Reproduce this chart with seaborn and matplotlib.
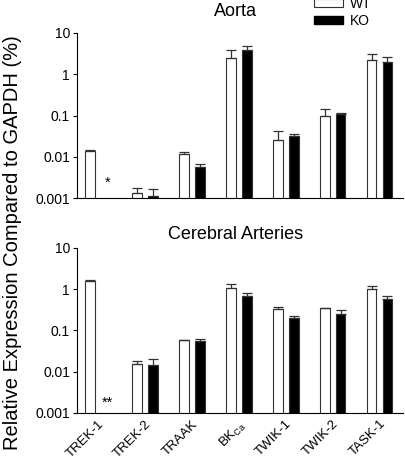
import matplotlib
matplotlib.use("Agg")
import matplotlib.pyplot as plt
from matplotlib.patches import Patch
from matplotlib.ticker import FixedLocator, NullLocator
import numpy as np
import pandas as pd
import seaborn as sns

channels = ["TREK-1", "TREK-2", "TRAAK", "BKCa", "TWIK-1", "TWIK-2", "TASK-1"]
tick_labels = ["TREK-1", "TREK-2", "TRAAK", r"BK$_{\mathregular{Ca}}$", "TWIK-1", "TWIK-2", "TASK-1"]

# Aorta (% of GAPDH), mean and upper error
aorta_wt = [0.014, 0.0013, 0.0116, 2.4, 0.0255, 0.095, 2.2]
aorta_wt_err = [0.0003, 0.0005, 0.0012, 1.4, 0.0165, 0.05, 0.8]
aorta_ko = [np.nan, 0.0011, 0.0058, 3.85, 0.0325, 0.11, 1.93]
aorta_ko_err = [np.nan, 0.0006, 0.001, 1.05, 0.0035, 0.004, 0.62]

# Cerebral arteries
cereb_wt = [1.6, 0.0156, 0.057, 1.06, 0.33, 0.34, 1.0]
cereb_wt_err = [0.02, 0.003, 0.0005, 0.28, 0.04, 0.01, 0.2]
cereb_ko = [np.nan, 0.0145, 0.0553, 0.69, 0.2, 0.254, 0.57]
cereb_ko_err = [np.nan, 0.0062, 0.0077, 0.12, 0.024, 0.051, 0.12]

plt.rcParams["font.family"] = ["Liberation Sans", "DejaVu Sans"]
fig = plt.figure(figsize=(4.05, 4.63), dpi=100)
ax1 = fig.add_axes([0.19, 0.572, 0.805, 0.357])
ax2 = fig.add_axes([0.19, 0.108, 0.805, 0.357])


def panel(ax, wt, wt_err, ko, ko_err, title, pad, star):
    df = pd.DataFrame({
        "channel": channels * 2,
        "geno": ["WT"] * 7 + ["KO"] * 7,
        "val": wt + ko,
        "err": wt_err + ko_err,
    })
    sns.barplot(data=df, x="channel", y="val", hue="geno", order=channels,
                hue_order=["WT", "KO"], palette={"WT": "white", "KO": "black"},
                width=0.68, gap=0.38, errorbar=None, edgecolor="#333333",
                linewidth=0.8, legend=False, ax=ax)
    ax.set_yscale("log")
    ax.set_ylim(0.001, 10)
    ax.set_xlim(-0.445, 6.5)
    # one-sided error bars on top of each bar
    bars = [p for p in ax.patches if np.isfinite(p.get_height()) and p.get_height() > 0]
    vals = [v for v in wt + ko if np.isfinite(v)]
    errs = [e for e, v in zip(wt_err + ko_err, wt + ko) if np.isfinite(v)]
    for p, v, e in zip(bars, vals, errs):
        xc = p.get_x() + p.get_width() / 2
        ax.errorbar(xc, v, yerr=[[0], [e]], fmt="none", ecolor="#333333",
                    elinewidth=0.9, capsize=3.5, capthick=0.9)
    ax.text(0.2, star[1], star[0], ha="center", va="center", fontsize=10.5)
    ax.set_title(title, fontsize=13, pad=pad, x=0.485)
    ax.yaxis.set_major_locator(FixedLocator([0.001, 0.01, 0.1, 1, 10]))
    ax.yaxis.set_minor_locator(NullLocator())
    ax.set_yticklabels(["0.001", "0.01", "0.1", "1", "10"], fontsize=10)
    ax.tick_params(axis="y", length=3, width=0.8, direction="out", pad=2)
    ax.tick_params(axis="x", length=0)
    ax.set_xlabel("")
    ax.set_ylabel("")
    sns.despine(ax=ax)
    for s in ["left", "bottom"]:
        ax.spines[s].set_linewidth(0.8)


panel(ax1, aorta_wt, aorta_wt_err, aorta_ko, aorta_ko_err, "Aorta", 12, ("*", 0.0023))
panel(ax2, cereb_wt, cereb_wt_err, cereb_ko, cereb_ko_err, "Cerebral Arteries", 6, ("**", 0.0018))

ax1.set_xticklabels([])
ax2.set_xticks(range(len(channels)))
ax2.set_xticklabels(tick_labels, rotation=45, ha="right", rotation_mode="anchor", fontsize=9.5)

fig.text(0.032, 0.477, "Relative Expression Compared to GAPDH (%)", rotation=90,
         ha="center", va="center", fontsize=14.5)

handles = [Patch(facecolor="white", edgecolor="#333333", linewidth=0.8, label="WT"),
           Patch(facecolor="black", edgecolor="black", label="KO")]
fig.legend(handles=handles, loc="upper left", bbox_to_anchor=(0.775, 1.006), frameon=False,
           fontsize=10, handlelength=2.1, handleheight=0.5, labelspacing=0.2,
           handletextpad=0.5, borderaxespad=0, borderpad=0)

fig.savefig("out.png", dpi=100)
